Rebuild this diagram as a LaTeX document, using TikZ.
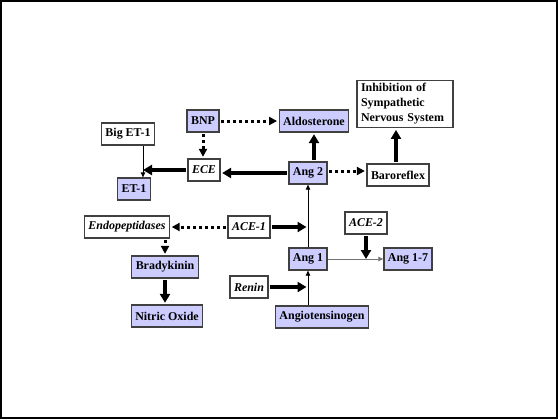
\documentclass[tikz,border=0pt]{standalone}
\usepackage{fontspec}
\setmainfont{Liberation Serif}
\usepackage{xcolor}
\usepackage{tikz}
\usetikzlibrary{shapes.geometric, arrows.meta}
\definecolor{lav}{RGB}{204,204,255}
\tikzstyle{block} = [rectangle, minimum height=22bp, inner xsep=4bp, text centered, draw=black!75, line width=1.3bp, fill=white, font=\fontsize{12}{15}\selectfont\bfseries]
\tikzstyle{blockb} = [block, fill=lav]
\tikzstyle{enzyme} = [block, font=\fontsize{12}{15}\selectfont\bfseries\itshape]
\tikzstyle{arrow} = [line width=3.3bp,-{Triangle[length=9bp,width=10bp]}, shorten <=1.5bp, shorten >=1.5bp]
\tikzstyle{dotarrow} = [line width=3bp, dash pattern=on 3bp off 3bp,-{Triangle[length=8bp,width=8bp]}, shorten <=1.5bp, shorten >=1.5bp]
\tikzstyle{thinarrow} = [line width=0.8bp,-{Triangle[length=5bp,width=4.5bp]}]

\begin{document}
\begin{tikzpicture}[x=1bp, y=-1bp, node distance=40bp]
        \useasboundingbox (0,0) rectangle (558,419);
        \draw [line width=2bp] (1,1) rectangle (556.5,417.5);

        \node (ang2) [blockb] at (308,173) {Ang 2};
        \node (aldo) [blockb, above of=ang2, yshift=+12bp, xshift=+6bp] {Aldosterone};
        \node (bnp) [blockb, left of=aldo, xshift=-71bp] {BNP};
        \node (ece) [enzyme, below of=bnp, yshift=-9bp, xshift=+1bp] {ECE};
        \node (baro) [block, right of=ang2, xshift=+50bp, yshift=-2bp] {Baroreflex};
        \node (inhib) [block, above of=baro, yshift=+31bp, xshift=+7bp, align=left, text width=88bp] {Inhibition of\\Sympathetic\\Nervous System};
        \node (biget) [block, left of=ece, xshift=-36bp, yshift=+36bp] {Big ET-1};
        \node (et1) [blockb, below of=biget, yshift=-15bp, xshift=+6bp] {ET-1};
        \node (ang1) [blockb, below of=ang2, yshift=-46bp] {Ang 1};
        \node (agt) [blockb, below of=ang1, yshift=-18bp, xshift=+14bp] {Angiotensinogen};
        \node (ang17) [blockb, right of=ang1, xshift=+60bp] {Ang 1-7};
        \node (ace2) [enzyme, above of=ang17, yshift=-4bp, xshift=-42bp] {ACE-2};
        \node (ace1) [enzyme, left of=ang1, xshift=-19bp, yshift=+32bp] {ACE-1};
        \node (renin) [enzyme, below of=ace1, yshift=-20bp] {Renin};
        \node (endo) [enzyme, left of=ace1, xshift=-82bp] {Endopeptidases};
        \node (brady) [blockb, below of=endo, xshift=+38bp] {Bradykinin};
        \node (no) [blockb, below of=brady, yshift=-9bp, xshift=+2bp] {Nitric Oxide};
        \coordinate (etline) at (143,0);

        \draw [dotarrow] (bnp) -- (aldo);
        \draw [dotarrow] (bnp) -- (bnp |- ece.north);
        \draw [arrow] (ang2.west) -- (ang2.west -| ece.east);
        \draw [arrow, shorten >=0bp] (ece.west) -- (ece.west -| etline);
        \draw [thinarrow] (biget.south -| etline) -- (et1.north -| etline);
        \draw [arrow] (ang2.north -| aldo.south) -- (aldo.south);
        \draw [dotarrow] ([yshift=2bp]ang2.east) -- ([yshift=2bp]ang2.east -| baro.west);
        \draw [arrow] (baro.north -| 396,0) -- (inhib.south -| 396,0);
        \draw [thinarrow] (ang1) -- (ang2);
        \draw [thinarrow] (agt.north -| ang1.south) -- (ang1.south);
        \draw [thinarrow, draw=black!55] (ang1) -- (ang17);
        \draw [arrow, shorten >=0bp] (ace2) -- (ace2 |- ang17);
        \draw [arrow] (ace1) -- (ace1 -| ang1);
        \draw [arrow] (renin) -- (renin -| ang1);
        \draw [dotarrow] (ace1) -- (endo);
        \draw [dotarrow] (endo.south -| brady.north) -- (brady.north);
        \draw [arrow] (brady.south) -- (brady.south |- no.north);
     \end{tikzpicture}
\end{document}
